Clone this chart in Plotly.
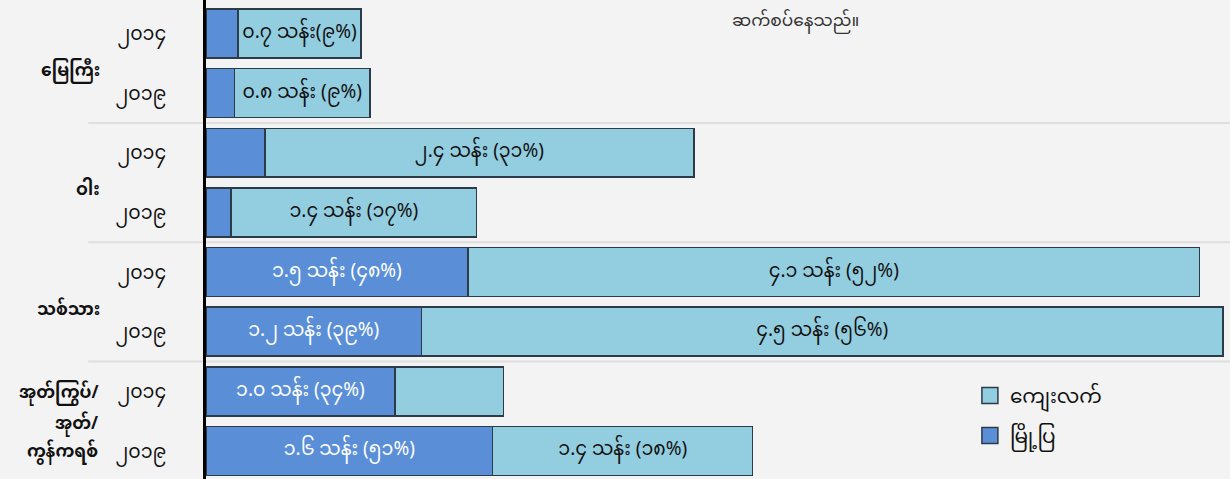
import plotly.graph_objects as go

# Data (millions of households)
group_labels = ["မြေကြီး", "ဝါး", "သစ်သား"]
group_last_lines = ["အုတ်ကြွပ်/", "အုတ်/", "ကွန်ကရစ်"]
years = ["၂၀၁၄", "၂၀၁၉", "၂၀၁၄", "၂၀၁၉", "၂၀၁၄", "၂၀၁၉", "၂၀၁၄", "၂၀၁၉"]
urban = [0.18, 0.16, 0.33, 0.14, 1.47, 1.21, 1.06, 1.61]
rural = [0.69, 0.76, 2.41, 1.38, 4.11, 4.50, 0.61, 1.46]
urban_labels = ["", "", "", "", "၁.၅ သန်း (၄၈%)", "၁.၂ သန်း (၃၉%)", "၁.၀ သန်း (၃၄%)", "၁.၆ သန်း (၅၁%)"]
rural_labels = ["၀.၇ သန်း(၉%)", "၀.၈ သန်း (၉%)", "၂.၄ သန်း (၃၁%)", "၁.၄ သန်း (၁၇%)",
                "၄.၁ သန်း (၅၂%)", "၄.၅ သန်း (၅၆%)", "", "၁.၄ သန်း (၁၈%)"]
series_names = ["မြို့ပြ", "ကျေးလက်"]
note_text = "ဆက်စပ်နေသည်။"

FONT = "Noto Sans Myanmar, Padauk, Myanmar Text, Noto Sans, sans-serif"
DARK = "#5a8fd8"
LIGHT = "#93cde0"
EDGE = "#2d3a48"
pos = list(range(len(years)))

fig = go.Figure()
fig.add_trace(go.Bar(
    y=pos, x=urban, orientation="h", name=series_names[0], showlegend=False,
    marker=dict(color=DARK, line=dict(color=EDGE, width=1.5)),
    text=urban_labels, textposition="inside", insidetextanchor="middle",
    textfont=dict(color="white", size=19, family=FONT), width=0.82,
))
fig.add_trace(go.Bar(
    y=pos, x=rural, orientation="h", name=series_names[1], showlegend=False,
    marker=dict(color=LIGHT, line=dict(color=EDGE, width=1.5)),
    text=rural_labels, textposition="inside", insidetextanchor="middle",
    textfont=dict(color="#111", size=19, family=FONT), width=0.82,
))
# legend entries (rural first, as in the reference)
for name, col, rank, grp in [(series_names[1], LIGHT, 1, "r"), (series_names[0], DARK, 2, "u")]:
    fig.add_trace(go.Scatter(
        x=[None], y=[None], mode="markers", name=name, legendrank=rank, legendgroup=grp,
        marker=dict(symbol="square", size=20, color=col, line=dict(color=EDGE, width=1.5)),
    ))

# group labels
centers = [0.5, 2.5, 4.5]
for g, c in zip(group_labels, centers):
    fig.add_annotation(text="<b>" + g + "</b>", xref="paper", yref="y",
                       x=-0.102, y=c + 0.15, xanchor="right", yanchor="middle",
                       showarrow=False, align="right",
                       font=dict(size=17, color="#111", family=FONT))
for line, yy in zip(group_last_lines, [6.05, 6.57, 7.03]):
    fig.add_annotation(text="<b>" + line + "</b>", xref="paper", yref="y",
                       x=-0.104, y=yy, xanchor="right", yanchor="middle",
                       showarrow=False, align="right",
                       font=dict(size=17, color="#111", family=FONT))

# separators
for s in [1.5, 3.5, 5.5]:
    fig.add_shape(type="line", xref="paper", yref="y", x0=-0.115, x1=1.0, y0=s, y1=s,
                  line=dict(color="#dedede", width=2), layer="below")

fig.add_annotation(text=note_text, xref="paper", yref="paper", x=0.512, y=0.955,
                   xanchor="left", yanchor="middle", showarrow=False,
                   font=dict(size=17, color="#333", family=FONT))

fig.update_layout(
    width=1230, height=479, barmode="stack",
    paper_bgcolor="#f3f3f3", plot_bgcolor="#f3f3f3",
    margin=dict(l=206, r=0, t=0, b=0, autoexpand=False),
    font=dict(family=FONT, color="#111"),
    showlegend=True,
    legend=dict(x=0.746, y=0.215, xanchor="left", yanchor="top", traceorder="grouped",
                tracegroupgap=11, itemsizing="trace",
                bgcolor="rgba(0,0,0,0)", font=dict(size=20, family=FONT)),
    uniformtext=dict(mode="show", minsize=10),
)
fig.update_xaxes(range=[0, 5.75], visible=False, showgrid=False, zeroline=False, automargin=False)
fig.update_yaxes(range=[7.47, -0.56], tickmode="array", tickvals=pos, ticktext=years,
                 showgrid=False, zeroline=False, showline=True, linecolor="black", linewidth=3,
                 ticks="", ticklabelstandoff=33, automargin=False,
                 tickfont=dict(size=19, family=FONT, color="#111"))

fig.write_html("out.html", config={"displayModeBar": False},
               post_script="document.body.style.margin='0';document.body.style.background='#f3f3f3';")
